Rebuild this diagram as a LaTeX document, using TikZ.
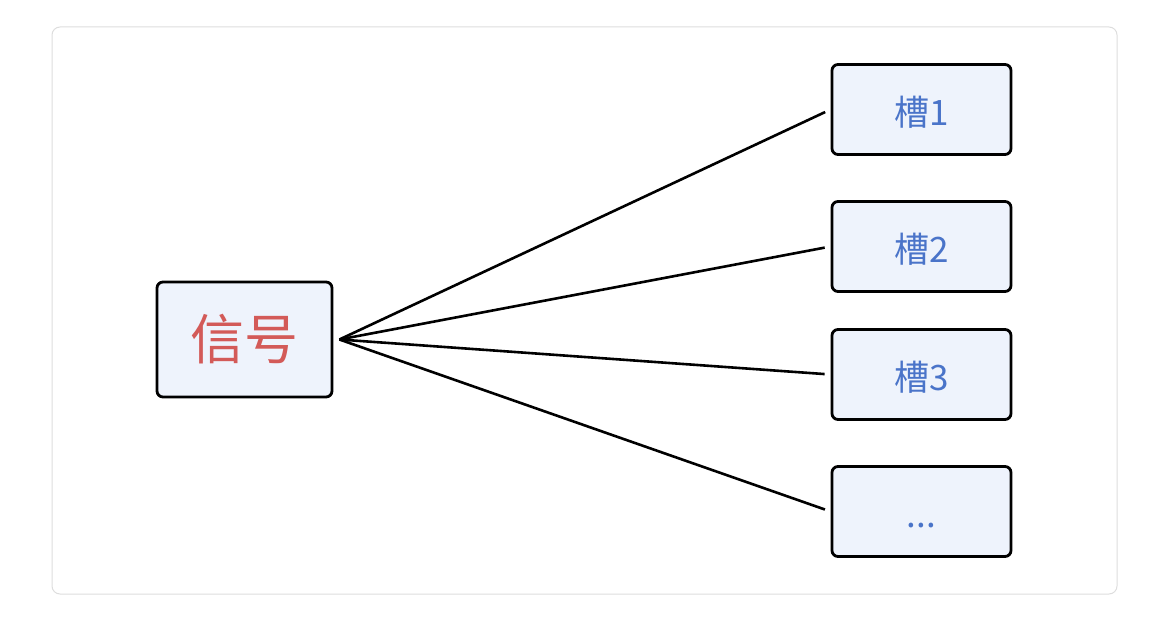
\documentclass[tikz,border=0pt]{standalone}
\usepackage{fontspec}
\setmainfont{Noto Sans CJK SC}
\usetikzlibrary{positioning}
\definecolor{boxfill}{HTML}{EEF3FC}
\definecolor{sigred}{HTML}{D35A58}
\definecolor{slotblue}{HTML}{4A74C9}
\definecolor{framegray}{HTML}{DDDDDD}

\begin{document}
\begin{tikzpicture}[x=0.5pt,y=-0.5pt,thick,node distance=22.1pt, sig node/.style={rectangle,draw,rounded corners=3pt,line width=1.4pt,fill=boxfill,text=sigred,font=\fontsize{27pt}{30pt}\selectfont,minimum width=87.5pt,minimum height=57.5pt}, slot node/.style={rectangle,draw,rounded corners=3pt,line width=1.4pt,fill=boxfill,text=slotblue,font=\fontsize{17.5pt}{20pt}\selectfont,minimum width=89.5pt,minimum height=45pt,text height=17pt,text depth=1pt}]

  \useasboundingbox (0,0) rectangle (1156,620);
  \draw[framegray,line width=0.5pt,rounded corners=4pt] (52,27) rectangle (1117,594);

  \node[sig node] (sig) at (244.5,339.5) {信号};
  \node[slot node] (s1) at (921.5,109.5) {槽1};
  \node[slot node] (s2) [below=of s1] {槽2};
  \node[slot node] (s3) [below=17.6pt of s2] {槽3};
  \node[slot node] (s4) [below=of s3] {...};
  \coordinate[right=3pt of sig.east] (fan);

  \path[-,line width=1.3pt,shorten >=3pt]
       (fan) edge (s1.west)
       (fan) edge (s2.west)
       (fan) edge (s3.west)
       (fan) edge (s4.west);
\end{tikzpicture}
\end{document}
